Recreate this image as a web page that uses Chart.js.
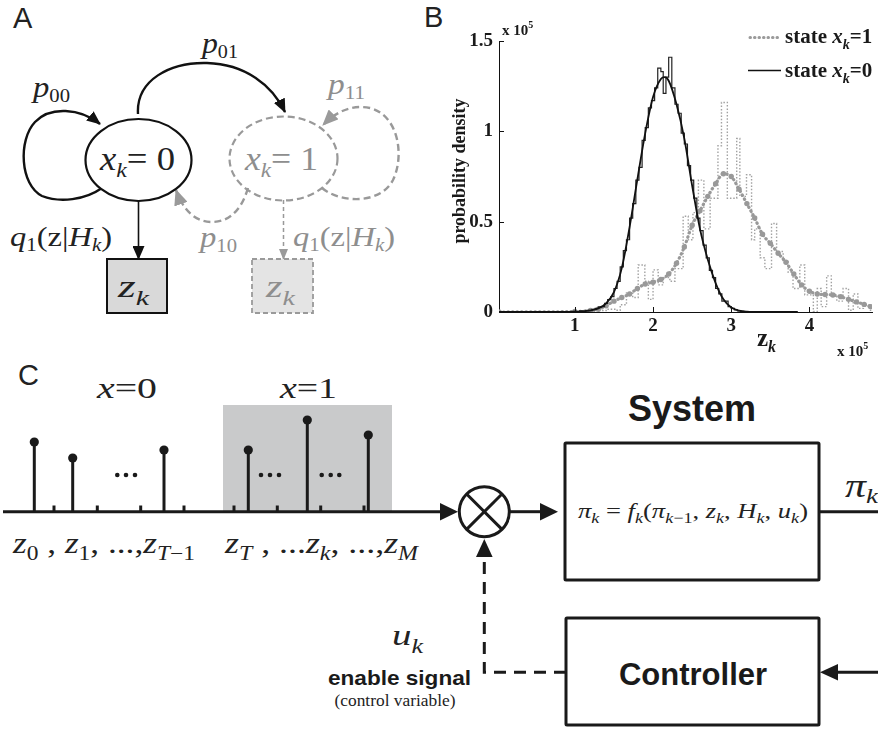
<!DOCTYPE html>
<html>
<head>
<meta charset="utf-8">
<script src="https://cdn.jsdelivr.net/npm/chart.js@4.4.1/dist/chart.umd.min.js"></script>
<style>
  html, body { margin: 0; padding: 0; background: #fff; }
  #fig { position: relative; width: 878px; height: 729px; overflow: hidden; }
  #diagram { position: absolute; left: 0; top: 0; }
  #plotBox { position: absolute; left: 420px; top: 0; width: 458px; height: 360px; }
  .serif { font-family: "Liberation Serif", "Times New Roman", serif; }
  .sans { font-family: "Liberation Sans", Arial, sans-serif; }
</style>
</head>
<body>
<div id="fig">
<svg id="diagram" width="878" height="729" xmlns="http://www.w3.org/2000/svg">
  <defs>
    <marker id="hBlk" markerUnits="userSpaceOnUse" markerWidth="14" markerHeight="12" viewBox="0 0 14 12" refX="13" refY="6" orient="auto">
      <path d="M0,0 L14,6 L0,12 Z" fill="#111"/>
    </marker>
    <marker id="hGry" markerUnits="userSpaceOnUse" markerWidth="16" markerHeight="14" viewBox="0 0 16 14" refX="15" refY="7" orient="auto">
      <path d="M0,0 L16,7 L0,14 Z" fill="#9a9a9a"/>
    </marker>
    <marker id="hGrySm" markerUnits="userSpaceOnUse" markerWidth="11" markerHeight="9" viewBox="0 0 11 9" refX="10" refY="4.5" orient="auto">
      <path d="M0,0 L11,4.5 L0,9 Z" fill="#9a9a9a"/>
    </marker>
  </defs>

  <!-- panel A -->
  <text class="sans" x="13" y="28" font-size="29" fill="#222">A</text>

  <path d="M102,188 C85,200 60,203 42,196 C20,185 18,140 35,122 C50,106 80,108 100,124" fill="none" stroke="#111" stroke-width="2.4" marker-end="url(#hBlk)"/>
  <path d="M138,114 C136,80 170,62 207,63 C245,64 272,85 285,112" fill="none" stroke="#111" stroke-width="2.4" marker-end="url(#hBlk)"/>
  <path d="M322,188 C340,203 380,205 393,180 C405,155 398,115 370,108 C350,104 335,113 323,125" fill="none" stroke="#999" stroke-width="2.4" stroke-dasharray="7 4" marker-end="url(#hGry)"/>
  <path d="M248,188 C240,215 225,222 212,222 C195,222 183,210 176,190" fill="none" stroke="#999" stroke-width="2.4" stroke-dasharray="7 4" marker-end="url(#hGry)"/>

  <ellipse cx="138.5" cy="160" rx="53" ry="41" fill="#fff" stroke="#111" stroke-width="2.2"/>
  <ellipse cx="283.5" cy="158.5" rx="54" ry="42" fill="none" stroke="#999" stroke-width="2.2" stroke-dasharray="7 4"/>

  <line x1="138.5" y1="201" x2="138.5" y2="259" stroke="#111" stroke-width="1.6" marker-end="url(#hBlk)"/>
  <line x1="283.5" y1="200" x2="283.5" y2="259" stroke="#999" stroke-width="1.5" stroke-dasharray="4 3" marker-end="url(#hGrySm)"/>

  <rect x="107" y="259" width="60" height="54" fill="#d9d9d9" stroke="#111" stroke-width="2"/>
  <rect x="252" y="259" width="61" height="54" fill="#e4e4e4" stroke="#9a9a9a" stroke-width="1.8" stroke-dasharray="5 3"/>

  <g class="serif" fill="#222">
    <text x="33" y="97" font-size="30" textLength="37" lengthAdjust="spacingAndGlyphs"><tspan font-style="italic">p</tspan><tspan font-size="19" dy="5">00</tspan></text>
    <text x="202" y="53" font-size="30" textLength="36" lengthAdjust="spacingAndGlyphs"><tspan font-style="italic">p</tspan><tspan font-size="19" dy="5">01</tspan></text>
    <text x="100" y="170" font-size="34" textLength="75" lengthAdjust="spacingAndGlyphs"><tspan font-style="italic">x</tspan><tspan font-style="italic" font-size="22" dy="7">k</tspan><tspan dy="-7">= 0</tspan></text>
    <text x="10" y="246" font-size="28" textLength="102" lengthAdjust="spacingAndGlyphs"><tspan font-style="italic">q</tspan><tspan font-size="18" dy="5">1</tspan><tspan dy="-5">(z|</tspan><tspan font-style="italic">H</tspan><tspan font-style="italic" font-size="18" dy="5">k</tspan><tspan dy="-5">)</tspan></text>
    <text x="118" y="297" font-size="32" textLength="31" lengthAdjust="spacingAndGlyphs"><tspan font-style="italic">z</tspan><tspan font-style="italic" font-size="21" dy="8">k</tspan></text>
  </g>
  <g class="serif" fill="#8e8e8e">
    <text x="328" y="94" font-size="30" textLength="37" lengthAdjust="spacingAndGlyphs"><tspan font-style="italic">p</tspan><tspan font-size="19" dy="5">11</tspan></text>
    <text x="200" y="247" font-size="30" textLength="37" lengthAdjust="spacingAndGlyphs"><tspan font-style="italic">p</tspan><tspan font-size="19" dy="5">10</tspan></text>
    <text x="245" y="170" font-size="34" textLength="73" lengthAdjust="spacingAndGlyphs"><tspan font-style="italic">x</tspan><tspan font-style="italic" font-size="22" dy="7">k</tspan><tspan dy="-7">= 1</tspan></text>
    <text x="293" y="246" font-size="28" textLength="102" lengthAdjust="spacingAndGlyphs"><tspan font-style="italic">q</tspan><tspan font-size="18" dy="5">1</tspan><tspan dy="-5">(z|</tspan><tspan font-style="italic">H</tspan><tspan font-style="italic" font-size="18" dy="5">k</tspan><tspan dy="-5">)</tspan></text>
    <text x="266" y="297" font-size="32" textLength="29" lengthAdjust="spacingAndGlyphs"><tspan font-style="italic">z</tspan><tspan font-style="italic" font-size="21" dy="8">k</tspan></text>
  </g>

  <!-- panel C -->
  <text class="sans" x="18" y="385" font-size="29" fill="#222">C</text>
  <rect x="223" y="405" width="169" height="107" fill="#c9cacb"/>
  <g class="serif" fill="#222">
    <text x="97" y="398" font-size="30" textLength="60" lengthAdjust="spacingAndGlyphs"><tspan font-style="italic">x</tspan>=0</text>
    <text x="280" y="398" font-size="30" textLength="57" lengthAdjust="spacingAndGlyphs"><tspan font-style="italic">x</tspan>=1</text>
  </g>

  <g stroke="#1a1a1a" stroke-width="3">
    <line x1="3" y1="511.7" x2="442" y2="511.7"/>
    <line x1="34.3" y1="511.7" x2="34.3" y2="442"/>
    <line x1="72.7" y1="511.7" x2="72.7" y2="458"/>
    <line x1="164" y1="511.7" x2="164" y2="450"/>
    <line x1="248.3" y1="511.7" x2="248.3" y2="450"/>
    <line x1="307.3" y1="511.7" x2="307.3" y2="420"/>
    <line x1="368.3" y1="511.7" x2="368.3" y2="435"/>
    <line x1="54" y1="511.7" x2="54" y2="505.5"/>
    <line x1="97.3" y1="511.7" x2="97.3" y2="505.5"/>
    <line x1="140.7" y1="511.7" x2="140.7" y2="505.5"/>
    <line x1="184" y1="511.7" x2="184" y2="505.5"/>
    <line x1="234" y1="511.7" x2="234" y2="505.5"/>
    <line x1="277.3" y1="511.7" x2="277.3" y2="505.5"/>
    <line x1="320.7" y1="511.7" x2="320.7" y2="505.5"/>
    <line x1="364" y1="511.7" x2="364" y2="505.5"/>
  </g>
  <g fill="#1a1a1a">
    <circle cx="34.3" cy="442" r="4.6"/>
    <circle cx="72.7" cy="458" r="4.6"/>
    <circle cx="164" cy="450" r="4.6"/>
    <circle cx="248.3" cy="450" r="4.6"/>
    <circle cx="307.3" cy="420" r="4.6"/>
    <circle cx="368.3" cy="435" r="4.6"/>
    <circle cx="117.3" cy="475" r="2.3"/><circle cx="126" cy="475" r="2.3"/><circle cx="135" cy="475" r="2.3"/>
    <circle cx="261" cy="475" r="2.3"/><circle cx="270" cy="475" r="2.3"/><circle cx="279" cy="475" r="2.3"/>
    <circle cx="321.7" cy="475" r="2.3"/><circle cx="330.7" cy="475" r="2.3"/><circle cx="339.3" cy="475" r="2.3"/>
    <path d="M440,503 L458,511.7 L440,520.5 Z"/>
    <path d="M540,503 L558,511.7 L540,520.5 Z"/>
    <path d="M838,664 L820,672.3 L838,680.6 Z"/>
    <path d="M476,557 L484.3,539 L492.6,557 Z"/>
  </g>

  <g class="serif" fill="#222">
    <text x="13" y="553" font-size="30" textLength="182" lengthAdjust="spacingAndGlyphs"><tspan font-style="italic">z</tspan><tspan font-size="20" dy="7">0</tspan><tspan dy="-7"> , </tspan><tspan font-style="italic">z</tspan><tspan font-size="20" dy="7">1</tspan><tspan dy="-7">, ...,</tspan><tspan font-style="italic">z</tspan><tspan font-size="20" dy="7" font-style="italic">T</tspan><tspan font-size="20">−1</tspan></text>
    <text x="225" y="553" font-size="30" textLength="193" lengthAdjust="spacingAndGlyphs"><tspan font-style="italic">z</tspan><tspan font-size="20" dy="7" font-style="italic">T</tspan><tspan dy="-7"> , ...</tspan><tspan font-style="italic">z</tspan><tspan font-size="20" dy="7" font-style="italic">k</tspan><tspan dy="-7">, ...,</tspan><tspan font-style="italic">z</tspan><tspan font-size="20" dy="7" font-style="italic">M</tspan></text>
  </g>

  <circle cx="484.3" cy="511.7" r="25" fill="#fff" stroke="#1a1a1a" stroke-width="3"/>
  <g stroke="#1a1a1a" stroke-width="3">
    <line x1="466.6" y1="494" x2="502" y2="529.4"/>
    <line x1="502" y1="494" x2="466.6" y2="529.4"/>
    <line x1="509.3" y1="511.7" x2="541" y2="511.7"/>
    <line x1="819" y1="511.7" x2="878" y2="511.7"/>
    <line x1="878" y1="672.3" x2="837" y2="672.3"/>
  </g>
  <path d="M566,672.3 L484.3,672.3 L484.3,557" fill="none" stroke="#1a1a1a" stroke-width="3" stroke-dasharray="12 8"/>

  <rect x="565" y="443" width="254" height="137" fill="none" stroke="#1a1a1a" stroke-width="3" rx="1"/>
  <rect x="566" y="618" width="253" height="107" fill="none" stroke="#1a1a1a" stroke-width="3" rx="1"/>

  <text class="sans" x="692" y="421" font-size="36" font-weight="bold" text-anchor="middle" fill="#1a1a1a">System</text>
  <text class="sans" x="693" y="685" font-size="31" font-weight="bold" text-anchor="middle" fill="#1a1a1a">Controller</text>

  <g class="serif" fill="#222">
    <text x="578" y="518" font-size="22" font-style="italic" textLength="230" lengthAdjust="spacingAndGlyphs">π<tspan font-size="15" dy="5">k</tspan><tspan dy="-5" font-style="normal"> = </tspan>f<tspan font-size="15" dy="5">k</tspan><tspan dy="-5" font-style="normal">(</tspan>π<tspan font-size="15" dy="5">k</tspan><tspan font-size="15" font-style="normal">−1</tspan><tspan dy="-5" font-style="normal">, </tspan>z<tspan font-size="15" dy="5">k</tspan><tspan dy="-5" font-style="normal">, </tspan>H<tspan font-size="15" dy="5">k</tspan><tspan dy="-5" font-style="normal">, </tspan>u<tspan font-size="15" dy="5">k</tspan><tspan dy="-5" font-style="normal">)</tspan></text>
    <text x="845" y="497" font-size="34" font-style="italic" textLength="33" lengthAdjust="spacingAndGlyphs">π<tspan font-size="22" dy="6">k</tspan></text>
    <text x="392" y="645" font-size="30" font-style="italic" textLength="31" lengthAdjust="spacingAndGlyphs">u<tspan font-size="20" dy="8">k</tspan></text>
    <text x="395" y="706" font-size="16.5" text-anchor="middle" textLength="121" lengthAdjust="spacingAndGlyphs">(control variable)</text>
  </g>
  <text class="sans" x="328" y="685" font-size="21" font-weight="bold" fill="#1a1a1a" textLength="143" lengthAdjust="spacingAndGlyphs">enable signal</text>

  <!-- panel B letter -->
  <text class="sans" x="424" y="27" font-size="29" fill="#222">B</text>
</svg>
<div id="plotBox"><canvas id="plot"></canvas></div>
</div>

<script>
// values in units of 10^5 (z) and 10^-5 (density)

// fitted density, state x_k = 0 (solid black)
const blackFitZ = [0.03, 0.6, 1.0, 1.1, 1.2, 1.3, 1.4, 1.5, 1.6, 1.7, 1.8, 1.9, 2.0, 2.1, 2.15, 2.2, 2.3, 2.4, 2.5, 2.6, 2.7, 2.8, 2.9, 3.0, 3.1, 3.2, 3.3, 3.5, 3.85];
const blackFitP = [0, 0, 0.002, 0.004, 0.009, 0.02, 0.048, 0.11, 0.243, 0.47, 0.735, 0.99, 1.19, 1.29, 1.30, 1.28, 1.15, 0.96, 0.70, 0.46, 0.29, 0.16, 0.07, 0.025, 0.008, 0.002, 0.0005, 0, 0];

// histogram, state x_k = 0 (left bin edges)
const blackHistZ = [0.03, 0.62, 0.70, 0.98, 1.02, 1.06, 1.10, 1.14, 1.18, 1.22, 1.26, 1.30, 1.34, 1.38, 1.42, 1.46, 1.50, 1.54, 1.58, 1.62, 1.66, 1.70, 1.74, 1.78, 1.82, 1.86, 1.90, 1.94, 1.98, 2.02, 2.06, 2.10, 2.13, 2.165, 2.20, 2.24, 2.28, 2.32, 2.36, 2.40, 2.44, 2.48, 2.52, 2.56, 2.60, 2.64, 2.68, 2.72, 2.76, 2.80, 2.84, 2.88, 2.92, 2.96, 3.00, 3.04, 3.08, 3.12, 3.16, 3.20, 3.85];
const blackHistP = [0, 0.002, 0, 0.004, 0.001, 0.006, 0.004, 0.009, 0.007, 0.014, 0.02, 0.028, 0.03, 0.048, 0.068, 0.085, 0.13, 0.17, 0.25, 0.34, 0.40, 0.52, 0.60, 0.73, 0.80, 0.95, 1.02, 1.13, 1.17, 1.24, 1.35, 1.33, 1.21, 1.30, 1.41, 1.24, 1.15, 1.10, 0.99, 0.93, 0.81, 0.73, 0.63, 0.52, 0.45, 0.37, 0.30, 0.23, 0.19, 0.13, 0.10, 0.06, 0.06, 0.03, 0.02, 0.012, 0.006, 0.003, 0.001, 0, 0];

// smoothed density, state x_k = 1 (thick grey dots)
const grayFitZ = [0.03, 1.0, 1.2, 1.3, 1.4, 1.5, 1.6, 1.7, 1.8, 1.9, 2.0, 2.1, 2.2, 2.3, 2.4, 2.5, 2.6, 2.7, 2.8, 2.9, 3.0, 3.1, 3.2, 3.3, 3.4, 3.5, 3.6, 3.7, 3.8, 3.9, 4.0, 4.1, 4.2, 4.3, 4.4, 4.5, 4.6, 4.7, 4.78];
const grayFitP = [0, 0.003, 0.008, 0.015, 0.035, 0.06, 0.08, 0.10, 0.13, 0.155, 0.165, 0.18, 0.21, 0.27, 0.36, 0.48, 0.56, 0.64, 0.71, 0.765, 0.75, 0.68, 0.60, 0.52, 0.43, 0.38, 0.325, 0.275, 0.21, 0.15, 0.115, 0.10, 0.097, 0.094, 0.085, 0.07, 0.056, 0.042, 0.03];

// histogram, state x_k = 1 (thin grey dotted, left bin edges)
const grayHistZ = [0.03, 1.00, 1.10, 1.25, 1.40, 1.52, 1.58, 1.66, 1.74, 1.81, 1.895, 1.94, 2.00, 2.066, 2.13, 2.215, 2.28, 2.385, 2.45, 2.51, 2.58, 2.65, 2.73, 2.83, 2.875, 2.95, 3.07, 3.11, 3.195, 3.26, 3.30, 3.37, 3.43, 3.515, 3.58, 3.664, 3.728, 3.79, 3.877, 3.94, 4.05, 4.10, 4.15, 4.22, 4.28, 4.35, 4.43, 4.50, 4.56, 4.62, 4.69, 4.77, 4.80];
const grayHistP = [0, 0.003, 0, 0.008, 0.015, 0.01, 0.04, 0.105, 0.08, 0.26, 0.17, 0.07, 0.233, 0.15, 0.19, 0.17, 0.24, 0.53, 0.40, 0.55, 0.73, 0.46, 0.63, 0.92, 1.16, 0.63, 0.96, 0.64, 0.76, 0.40, 0.46, 0.30, 0.24, 0.49, 0.335, 0.28, 0.22, 0.13, 0.26, 0.095, 0.003, 0.13, 0.03, 0.2, 0.095, 0.06, 0.13, 0.01, 0.1, 0.02, 0.04, 0.01, 0.01];

const xTickValues = [1, 2, 3, 4];
const yTickValues = [0, 0.5, 1, 1.5];

const toPoints = (xs, ys) => xs.map((v, i) => ({ x: v, y: ys[i] }));

// draw a run of text pieces with different fonts / baselines
function drawRuns(ctx, x, y, runs) {
  let cx = x;
  runs.forEach(r => {
    ctx.font = r.font;
    ctx.fillText(r.t, cx, y + (r.dy || 0));
    cx += ctx.measureText(r.t).width;
  });
}

const serif = '"Liberation Serif", "Times New Roman", serif';

const extras = {
  id: 'extras',
  afterDraw(chart) {
    const { ctx, chartArea } = chart;
    const x = chart.scales.x, y = chart.scales.y;
    ctx.save();
    // MATLAB style inward ticks
    ctx.strokeStyle = '#111';
    ctx.lineWidth = 1;
    xTickValues.forEach(v => {
      const px = Math.round(x.getPixelForValue(v)) + 0.5;
      ctx.beginPath(); ctx.moveTo(px, chartArea.bottom); ctx.lineTo(px, chartArea.bottom - 5); ctx.stroke();
    });
    yTickValues.forEach(v => {
      const py = Math.round(y.getPixelForValue(v)) + 0.5;
      ctx.beginPath(); ctx.moveTo(chartArea.left, py); ctx.lineTo(chartArea.left + 5, py); ctx.stroke();
    });

    ctx.fillStyle = '#1a1a1a';
    ctx.textBaseline = 'alphabetic';
    ctx.textAlign = 'left';
    // exponent labels
    drawRuns(ctx, 82, 35, [{ t: 'x 10', font: 'bold 15px ' + serif }, { t: '5', font: 'bold 10px ' + serif, dy: -7 }]);
    drawRuns(ctx, 417, 356, [{ t: 'x 10', font: 'bold 15px ' + serif }, { t: '5', font: 'bold 10px ' + serif, dy: -7 }]);
    // x label
    drawRuns(ctx, 337, 346, [{ t: 'z', font: 'bold 25px ' + serif }, { t: 'k', font: 'italic bold 16px ' + serif, dy: 6 }]);
    // y label
    ctx.save();
    ctx.translate(45, 171);
    ctx.rotate(-Math.PI / 2);
    ctx.textAlign = 'center';
    ctx.font = 'bold 18px ' + serif;
    ctx.fillText('probability density', 0, 0);
    ctx.restore();

    // legend
    ctx.lineCap = 'round';
    ctx.strokeStyle = '#9a9a9a';
    ctx.lineWidth = 3;
    ctx.setLineDash([0.5, 4]);
    ctx.beginPath(); ctx.moveTo(330, 37.5); ctx.lineTo(360, 37.5); ctx.stroke();
    ctx.setLineDash([]);
    ctx.lineCap = 'butt';
    ctx.strokeStyle = '#111';
    ctx.lineWidth = 1.6;
    ctx.beginPath(); ctx.moveTo(328, 70.5); ctx.lineTo(361, 70.5); ctx.stroke();
    const legendRuns = s => [
      { t: 'state ', font: 'bold 21px ' + serif },
      { t: 'x', font: 'italic bold 21px ' + serif },
      { t: 'k', font: 'italic bold 14px ' + serif, dy: 6 },
      { t: s, font: 'bold 21px ' + serif }
    ];
    drawRuns(ctx, 365, 43, legendRuns('=1'));
    drawRuns(ctx, 365, 77, legendRuns('=0'));
    ctx.restore();
  }
};

new Chart(document.getElementById('plot'), {
  type: 'line',
  data: {
    datasets: [
      {
        data: toPoints(blackFitZ, blackFitP),
        borderColor: '#111',
        borderWidth: 1.8,
        cubicInterpolationMode: 'monotone',
        pointRadius: 0
      },
      {
        data: toPoints(blackHistZ, blackHistP),
        borderColor: '#222',
        borderWidth: 1.2,
        stepped: true,
        pointRadius: 0
      },
      {
        data: toPoints(grayFitZ, grayFitP),
        borderColor: '#999',
        borderWidth: 3.2,
        borderDash: [0.5, 4],
        borderCapStyle: 'round',
        cubicInterpolationMode: 'monotone',
        pointRadius: 2.7,
        pointBorderWidth: 0,
        pointBackgroundColor: '#999'
      },
      {
        data: toPoints(grayHistZ, grayHistP),
        borderColor: '#a2a2a2',
        borderWidth: 1.4,
        borderDash: [1.5, 1.8],
        stepped: true,
        pointRadius: 0
      }
    ]
  },
  options: {
    responsive: true,
    maintainAspectRatio: false,
    animation: false,
    layout: { padding: { top: 41, right: 6, left: 0, bottom: 0 } },
    plugins: { legend: { display: false }, tooltip: { enabled: false } },
    scales: {
      x: {
        type: 'linear',
        min: 0.03,
        max: 4.8,
        afterFit: s => { s.height = 48; },
        afterBuildTicks: s => { s.ticks = xTickValues.map(v => ({ value: v })); },
        grid: { drawOnChartArea: false, drawTicks: false },
        border: { display: true, color: '#111', width: 1 },
        ticks: {
          padding: 3,
          color: '#1a1a1a',
          font: { family: 'Liberation Serif', size: 19, weight: 'bold' },
          callback: v => String(v)
        }
      },
      y: {
        type: 'linear',
        min: 0,
        max: 1.5,
        afterFit: s => { s.width = 79; },
        afterBuildTicks: s => { s.ticks = yTickValues.map(v => ({ value: v })); },
        grid: { drawOnChartArea: false, drawTicks: false },
        border: { display: true, color: '#111', width: 1 },
        ticks: {
          padding: 6,
          color: '#1a1a1a',
          font: { family: 'Liberation Serif', size: 19, weight: 'bold' },
          callback: v => String(v)
        }
      }
    }
  },
  plugins: [extras]
});
</script>
</body>
</html>
